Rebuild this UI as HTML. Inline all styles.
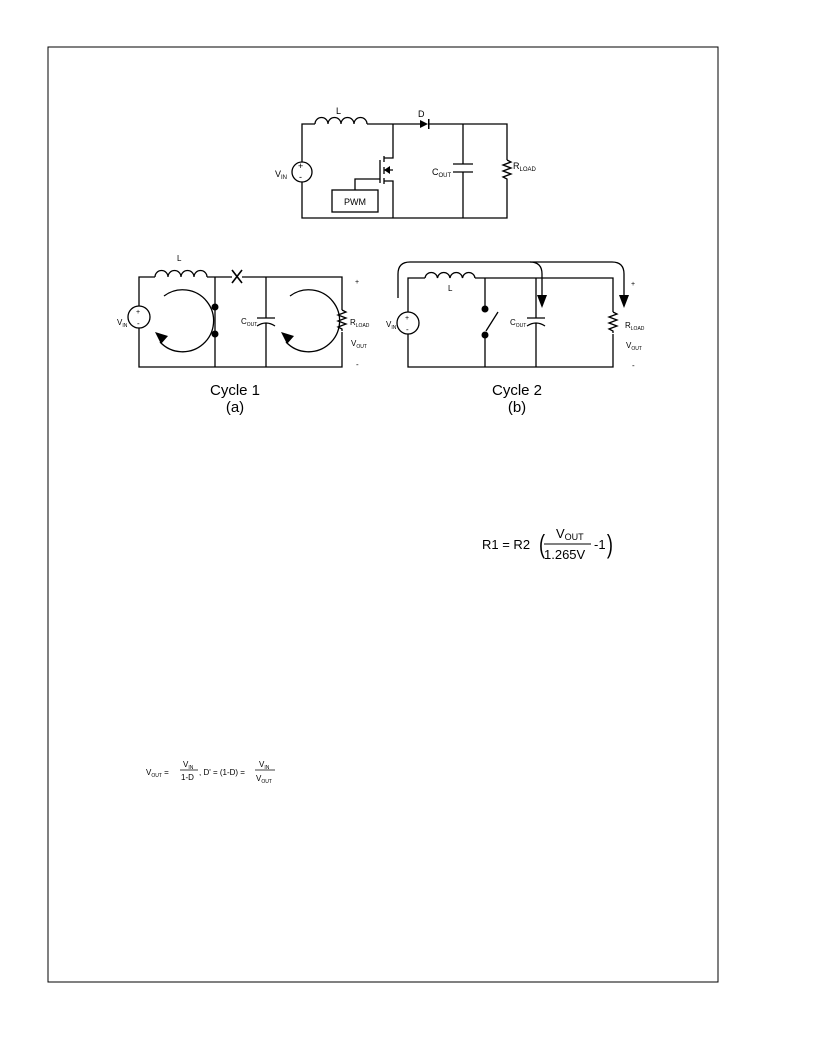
<!DOCTYPE html>
<html><head><meta charset="utf-8"><style>
html,body{margin:0;padding:0;background:#fff}
svg{display:block}
text{font-family:"Liberation Sans",Arial,sans-serif;fill:#000}
</style></head><body>
<svg width="816" height="1056" viewBox="0 0 816 1056" xmlns="http://www.w3.org/2000/svg">
<rect x="48" y="47" width="670" height="935" fill="none" stroke="#000" stroke-width="1"/>
<g fill="none" stroke="#000" stroke-width="1.3">
<!-- Top circuit -->
<path d="M302 162 V124 H315 M367 124 H420 M428 124 H507 V160 M507 181 V218 H302 V182"/>
<path d="M315 124 a6.5 6.5 0 0 1 13 0 a6.5 6.5 0 0 1 13 0 a6.5 6.5 0 0 1 13 0 a6.5 6.5 0 0 1 13 0"/>
<circle cx="302" cy="172" r="10"/>
<path d="M393 124 V158 H384 M384 181 H393 V218 M384 170 H393"/>
<path d="M384 156 V162 M384 167 V174 M384 178 V184"/>
<path d="M380 160 V183 M380 179 H355 V190"/>
<rect x="332" y="190" width="46" height="22"/>
<path d="M463 124 V164 M463 172 V218 M453 164 H473 M453 172 H473"/>
<path d="M507 160 l4 2 l-8 3 l8 3 l-8 3 l8 3 l-8 3 l4 2 v2"/>
<!-- Cycle 1 -->
<path d="M139 306 V277 H155 M207 277 H232 M242 277 H342 V310 M342 332 V367 H139 V328"/>
<path d="M155 277 a6.5 6.5 0 0 1 13 0 a6.5 6.5 0 0 1 13 0 a6.5 6.5 0 0 1 13 0 a6.5 6.5 0 0 1 13 0"/>
<circle cx="139" cy="317" r="11"/>
<path d="M215 277 V367 M266 277 V318 M266 323 V367 M257 318 H275 M257 326 Q266 320 275 326"/>
<path d="M342 310 l4 2 l-8 3 l8 3 l-8 3 l8 3 l-8 3 l4 2 v2"/>
<path d="M164 296 A31 31 0 1 1 160 342"/>
<path d="M290 296 A31 31 0 1 1 286 342" transform="translate(0,0)"/>
<path d="M232 270 L242 283 M242 270 L232 283" stroke-width="1.6"/>
<!-- Cycle 2 -->
<path d="M408 312 V278 H425 M475 278 H613 V312 M613 334 V367 H408 V334"/>
<path d="M425 278 a6.3 6.3 0 0 1 12.5 0 a6.3 6.3 0 0 1 12.5 0 a6.3 6.3 0 0 1 12.5 0 a6.3 6.3 0 0 1 12.5 0"/>
<circle cx="408" cy="323" r="11"/>
<path d="M485 278 V309 M485 335 V367 M486 331 L498 312"/>
<path d="M536 278 V318 M536 323 V367 M527 318 H545 M527 326 Q536 320 545 326"/>
<path d="M613 312 l4 2 l-8 3 l8 3 l-8 3 l8 3 l-8 3 l4 2 v2"/>
<path d="M398 298 V274 Q398 262 410 262 H530 Q542 262 542 274 V296"/>
<path d="M530 262 H612 Q624 262 624 274 V296"/>
</g>
<g fill="#000">
<circle cx="215" cy="307" r="3.5"/><circle cx="215" cy="334" r="3.5"/>
<circle cx="485" cy="309" r="3.5"/><circle cx="485" cy="335" r="3.5"/>
<path d="M420 120 V128 L428 124 Z M428 119 h1.5 v10 h-1.5 Z"/>
<path d="M384 170 L390 166 V174 Z"/>
<path d="M537 295 H547 L542 308 Z"/>
<path d="M619 295 H629 L624 308 Z"/>
<path d="M155 332 L168 336 L161 344 Z"/>
<path d="M281 332 L294 336 L287 344 Z"/>
</g>
<g font-size="9">
<text x="336" y="114">L</text>
<text x="418" y="117">D</text>
<text x="298" y="169" font-size="9">+</text><text x="299" y="180" font-size="9">-</text>
<text x="275" y="177">V<tspan font-size="6" dy="2">IN</tspan></text>
<text x="432" y="175">C<tspan font-size="6" dy="2">OUT</tspan></text>
<text x="513" y="169">R<tspan font-size="6" dy="2">LOAD</tspan></text>
<text x="344" y="205" font-size="9">PWM</text>

<text x="177" y="261" font-size="8">L</text>
<text x="136" y="314" font-size="7">+</text><text x="137" y="326" font-size="8">-</text>
<text x="117" y="325" font-size="8">V<tspan font-size="5" dy="2">IN</tspan></text>
<text x="241" y="324" font-size="8">C<tspan font-size="5" dy="2">OUT</tspan></text>
<text x="350" y="325" font-size="8">R<tspan font-size="5" dy="2">LOAD</tspan></text>
<text x="355" y="284" font-size="7">+</text>
<text x="351" y="346" font-size="8">V<tspan font-size="5" dy="2">OUT</tspan></text>
<text x="356" y="367" font-size="8">-</text>
<text x="235" y="395" font-size="15" text-anchor="middle">Cycle 1</text>
<text x="235" y="412" font-size="15" text-anchor="middle">(a)</text>

<text x="448" y="291" font-size="8">L</text>
<text x="405" y="320" font-size="7">+</text><text x="406" y="332" font-size="8">-</text>
<text x="386" y="327" font-size="8">V<tspan font-size="5" dy="2">IN</tspan></text>
<text x="510" y="325" font-size="8">C<tspan font-size="5" dy="2">OUT</tspan></text>
<text x="625" y="328" font-size="8">R<tspan font-size="5" dy="2">LOAD</tspan></text>
<text x="631" y="286" font-size="7">+</text>
<text x="626" y="348" font-size="8">V<tspan font-size="5" dy="2">OUT</tspan></text>
<text x="632" y="368" font-size="8">-</text>
<text x="517" y="395" font-size="15" text-anchor="middle">Cycle 2</text>
<text x="517" y="412" font-size="15" text-anchor="middle">(b)</text>
</g>
<!-- R1 equation -->
<g font-size="13">
<text x="482" y="549">R1 = R2</text>
<text x="539" y="553" font-size="26" transform="scale(0.7,1) translate(231,0)">(</text>
<text x="556" y="538">V<tspan font-size="9" dy="2">OUT</tspan></text>
<text x="544" y="559">1.265V</text>
<line x1="544" y1="544" x2="591" y2="544" stroke="#000" stroke-width="1"/>
<text x="594" y="549">-1</text>
<text x="607" y="553" font-size="26" transform="scale(0.7,1) translate(260,0)">)</text>
</g>
<!-- VOUT equation -->
<g font-size="8">
<text x="146" y="775">V<tspan font-size="5" dy="2">OUT</tspan><tspan dy="-2"> =</tspan></text>
<text x="183" y="767">V<tspan font-size="5" dy="2">IN</tspan></text>
<line x1="180" y1="770" x2="198" y2="770" stroke="#000" stroke-width="0.8"/>
<text x="181" y="780">1-D</text>
<text x="199" y="775">, D' = (1-D) =</text>
<text x="259" y="767">V<tspan font-size="5" dy="2">IN</tspan></text>
<line x1="255" y1="770" x2="275" y2="770" stroke="#000" stroke-width="0.8"/>
<text x="256" y="781">V<tspan font-size="5" dy="2">OUT</tspan></text>
</g>
</svg>
</body></html>
